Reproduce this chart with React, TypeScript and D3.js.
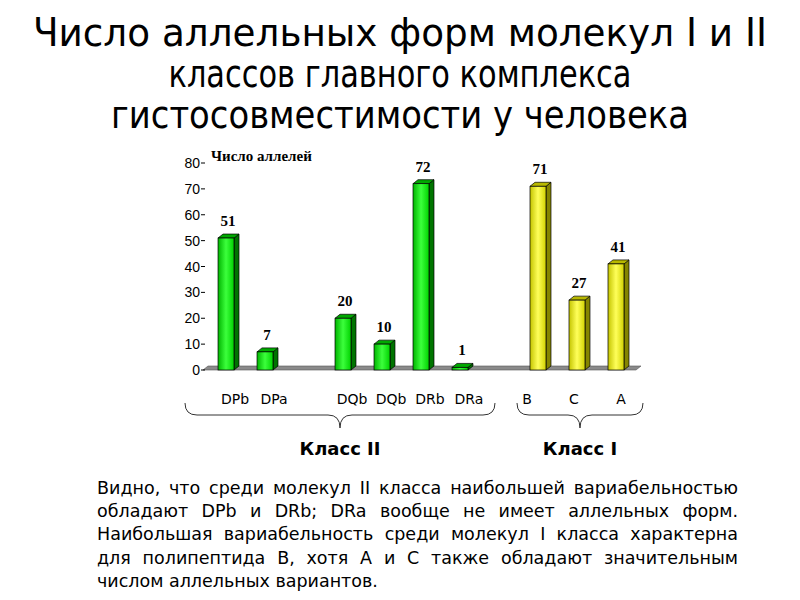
import React, { useEffect, useRef } from 'react';
import * as d3 from 'd3';

// class II molecules (gaps between DP / DQ,DR groups kept as empty slots)
const classIILabels = ['DPb', 'DPa', 'DQb', 'DQb', 'DRb', 'DRa'];
const classIIValues = [51, 7, 20, 10, 72, 1];
const classIILayout = ['DPb', 'DPa', 'gap1', 'DQb1', 'DQb2', 'DRb', 'DRa'];

// class I molecules
const classILabels = ['B', 'C', 'A'];
const classIValues = [71, 27, 41];

const slots = [...classIILayout, 'gap2', 'B', 'C', 'A'];
const classIISlots = ['DPb', 'DPa', 'DQb1', 'DQb2', 'DRb', 'DRa'];
const classISlots = ['B', 'C', 'A'];

const yTicks = [0, 10, 20, 30, 40, 50, 60, 70, 80];

const titleLines = [
  'Число аллельных форм молекул I и II',
  'классов главного комплекса',
  'гистосовместимости у человека',
];
const titleWidths = [734, 463, 578];

const bodyLines = [
  'Видно, что среди молекул II класса наибольшей вариабельностью',
  'обладают DPb и DRb; DRa вообще не имеет аллельных форм.',
  'Наибольшая вариабельность среди молекул I класса характерна',
  'для полипептида B, хотя A и C также обладают значительным',
  'числом аллельных вариантов.',
];

const W = 800;
const H = 600;
const sansFont = "'DejaVu Sans', Verdana, sans-serif";

export default function App() {
  const ref = useRef<SVGSVGElement>(null);

  useEffect(() => {
    const svg = d3.select(ref.current);
    svg.selectAll('*').remove();

    const defs = svg.append('defs');
    const grad = (id: string, stops: string[]) => {
      const g = defs.append('linearGradient').attr('id', id).attr('x1', 0).attr('x2', 1).attr('y1', 0).attr('y2', 0);
      stops.forEach((c, i) => g.append('stop').attr('offset', i / (stops.length - 1)).attr('stop-color', c));
    };
    grad('greenFront', ['#00b400', '#3cff3c', '#00d200']);
    grad('yellowFront', ['#c4c400', '#ffff5a', '#d2d200']);

    // title: narrow, tall lettering -> stretch vertically
    const sy = 1.15;
    svg.append('g')
      .attr('transform', `scale(1, ${sy})`)
      .selectAll('text')
      .data(titleLines)
      .enter()
      .append('text')
      .attr('x', W / 2)
      .attr('y', (d, i) => (46 + i * 41) / sy)
      .attr('text-anchor', 'middle')
      .attr('font-family', sansFont)
      .attr('font-size', 34)
      .attr('fill', '#000')
      .attr('textLength', (d, i) => titleWidths[i])
      .attr('lengthAdjust', 'spacingAndGlyphs')
      .text(d => d);

    const x = d3.scaleBand<string>().domain(slots).range([203, 639]).paddingInner(0.59).paddingOuter(0.385);
    const y = d3.scaleLinear().domain([0, 80]).range([370, 163]);
    const bw = x.bandwidth();
    const dx = 5, dy = 4;

    // floor
    const x0 = 203, x1 = 636;
    svg.append('path')
      .attr('d', `M${x0},${y(0)} L${x0 + dx},${y(0) - dy} L${x1 + dx},${y(0) - dy} L${x1},${y(0)} Z`)
      .attr('fill', '#8a8a8a')
      .attr('stroke', '#555')
      .attr('stroke-width', 0.6);

    // y axis ticks
    const axis = svg.append('g');
    axis.selectAll('line')
      .data(yTicks)
      .enter()
      .append('line')
      .attr('x1', 201).attr('x2', 205)
      .attr('y1', d => y(d)).attr('y2', d => y(d))
      .attr('stroke', '#000');
    axis.selectAll('text')
      .data(yTicks)
      .enter()
      .append('text')
      .attr('x', 200)
      .attr('y', d => y(d) + 5)
      .attr('text-anchor', 'end')
      .attr('font-family', "'Liberation Sans', Arial, sans-serif")
      .attr('font-size', 14)
      .text(d => d);

    svg.append('text')
      .attr('x', 211)
      .attr('y', 161)
      .attr('font-family', "'Liberation Serif', 'Times New Roman', serif")
      .attr('font-weight', 'bold')
      .attr('font-size', 15)
      .text('Число аллелей');

    const drawBars = (keys: string[], values: number[], front: string, side: string, top: string) => {
      const g = svg.append('g');
      const data = keys.map((k, i) => ({ k, v: values[i] }));
      const bars = g.selectAll('g').data(data).enter().append('g');
      bars.append('path')
        .attr('d', d => {
          const l = x(d.k)!, t = y(d.v), b = y(0);
          return `M${l + bw},${t} L${l + bw + dx},${t - dy} L${l + bw + dx},${b - dy} L${l + bw},${b} Z`;
        })
        .attr('fill', side).attr('stroke', '#000').attr('stroke-width', 0.7);
      bars.append('path')
        .attr('d', d => {
          const l = x(d.k)!, t = y(d.v);
          return `M${l},${t} L${l + dx},${t - dy} L${l + bw + dx},${t - dy} L${l + bw},${t} Z`;
        })
        .attr('fill', top).attr('stroke', '#000').attr('stroke-width', 0.7);
      bars.append('rect')
        .attr('x', d => x(d.k)!)
        .attr('y', d => y(d.v))
        .attr('width', bw)
        .attr('height', d => y(0) - y(d.v))
        .attr('fill', front).attr('stroke', '#000').attr('stroke-width', 0.7);
      bars.append('text')
        .attr('x', d => x(d.k)! + bw / 2 + 2)
        .attr('y', d => y(d.v) - 12)
        .attr('text-anchor', 'middle')
        .attr('font-family', "'Liberation Serif', 'Times New Roman', serif")
        .attr('font-weight', 'bold')
        .attr('font-size', 15)
        .text(d => d.v);
    };
    drawBars(classIISlots, classIIValues, 'url(#greenFront)', '#007400', '#00a800');
    drawBars(classISlots, classIValues, 'url(#yellowFront)', '#858500', '#b8b800');

    // category labels
    const cat = svg.append('g')
      .attr('font-family', sansFont)
      .attr('font-size', 14)
      .attr('text-anchor', 'middle');
    cat.selectAll('text.c2')
      .data(classIILabels)
      .enter()
      .append('text')
      .attr('x', (d, i) => x(classIISlots[i])! + bw / 2 + 9)
      .attr('y', 404)
      .text(d => d);
    cat.selectAll('text.c1')
      .data(classILabels)
      .enter()
      .append('text')
      .attr('x', (d, i) => x(classISlots[i])! + bw / 2 + (i - 1) * 8 - 3)
      .attr('y', 404)
      .text(d => d);

    // braces
    const brace = (l: number, r: number) => {
      const m = (l + r) / 2, t = 403, h = 415, tip = 428, c = 12;
      return `M${l},${t} Q${l},${h} ${l + c},${h} L${m - c},${h} Q${m},${h} ${m},${tip} Q${m},${h} ${m + c},${h} L${r - c},${h} Q${r},${h} ${r},${t}`;
    };
    const br = [
      { l: x('DPb')! - 33, r: x('DRa')! + bw + 27, name: 'Класс II' },
      { l: x('B')! - 13, r: x('A')! + bw + 19, name: 'Класс I' },
    ];
    svg.append('g').selectAll('path')
      .data(br)
      .enter()
      .append('path')
      .attr('d', d => brace(d.l, d.r))
      .attr('fill', 'none')
      .attr('stroke', '#333')
      .attr('stroke-width', 1);
    svg.append('g').selectAll('text')
      .data(br)
      .enter()
      .append('text')
      .attr('x', d => (d.l + d.r) / 2)
      .attr('y', 455)
      .attr('text-anchor', 'middle')
      .attr('font-family', sansFont)
      .attr('font-weight', 'bold')
      .attr('font-size', 18)
      .text(d => d.name);

    // justified paragraph
    const left = 97, right = 738;
    const body = svg.append('g')
      .attr('font-family', sansFont)
      .attr('font-size', 17.5)
      .attr('fill', '#000');
    bodyLines.forEach((line, li) => {
      const words = line.split(' ');
      const yy = 494 + li * 23.2;
      const nodes = words.map(w => body.append('text').attr('y', yy).text(w));
      const widths = nodes.map(n => (n.node() as SVGTextElement).getComputedTextLength());
      const total = d3.sum(widths);
      const last = li === bodyLines.length - 1;
      const gap = last ? 5.5 : (right - left - total) / (words.length - 1);
      let cx = left;
      nodes.forEach((n, i) => {
        n.attr('x', cx);
        cx += widths[i] + gap;
      });
    });
  }, []);

  return (
    <svg ref={ref} width={W} height={H} style={{ position: 'absolute', left: 0, top: 0, background: '#fff' }} />
  );
}
